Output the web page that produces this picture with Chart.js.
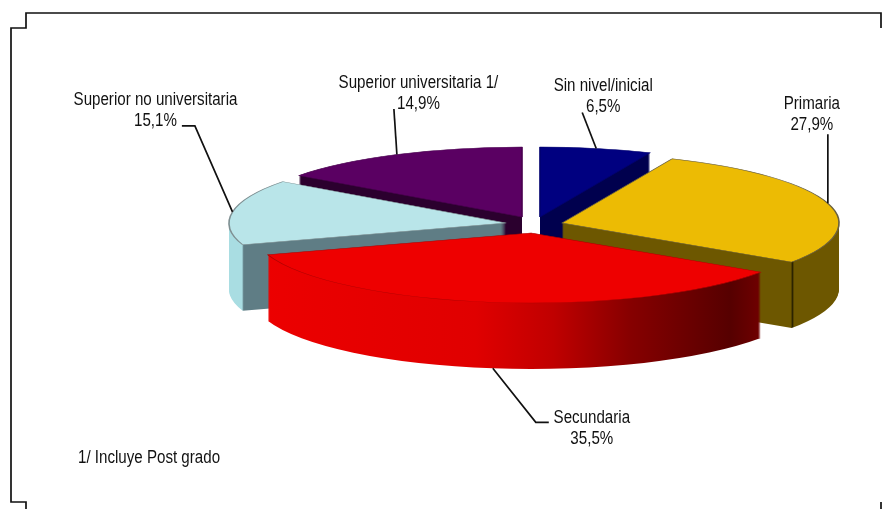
<!DOCTYPE html>
<html>
<head>
<meta charset="utf-8">
<style>
  html, body { margin: 0; padding: 0; background: #fff; }
  canvas { display: block; }
</style>
<script src="https://cdn.jsdelivr.net/npm/chart.js@4/dist/chart.umd.min.js"></script>
</head>
<body>
<canvas id="pie" width="882" height="509"></canvas>
<script>
// datos del grafico
const categories = ['Sin nivel/inicial', 'Primaria', 'Secundaria', 'Superior no universitaria', 'Superior universitaria 1/'];
const shares = [6.5, 27.9, 35.5, 15.1, 14.9];
const footnote = '1/ Incluye Post grado';

// colores de cada porcion
const topColors = ['#000080', '#ecbb04', '#ee0000', '#b9e5e9', '#5a0062'];
// pared lateral: [posicion -1..1 sobre el radio, color]
const wallStops = [
  [[-1, '#00004e'], [1, '#00004e']],
  [[0.826, '#6d5700'], [0.832, '#2a2200'], [0.838, '#6d5700']],
  [[-0.96, '#ec0000'], [-0.2, '#e00000'], [0.08, '#c00000'], [0.36, '#860000'], [0.72, '#560000'], [0.83, '#700000']],
  [[-0.953, '#a9dde2'], [-0.947, '#5f7d85']],
  [[-1, '#2b002e'], [1, '#2b002e']]
];
const edgeColors = ['#000070', '#6a6040', '#b00000', '#7f8f92', '#4a0050'];

// geometria de la vista 3D (pixeles de pantalla)
const view = { cx: 528, cy: 222, rx: 277, ry: 70, depth: 66 };
const explode = [[12, -5], [34, 1], [3, 11], [-22, 1], [-6, -5]];
const drawOrder = [4, 0, 3, 1, 2]; // de atras hacia adelante

// etiquetas: desplazamientos desde el punto medio del borde de cada porcion
const callouts = [
  { label: [7, -51.5], line: [[-14, -36]] },
  { label: [-16, -89], line: [[0, -69]] },
  { label: [99, 60.5], line: [[43, 54], [56, 54]] },
  { label: [-77, -101.5], line: [[-37.6, -86], [-50.6, -86]] },
  { label: [21.5, -60.5], line: [[-3, -45.5]] }
];

const labelFont = '17.5px "Liberation Sans", sans-serif';
const textSquash = 0.864; // el texto original es mas alto y angosto

function drawSlice(ctx, arc, i) {
  const r = arc.outerRadius;
  const sx = view.rx / r, sy = view.ry / r;
  const saved = arc.options;

  const place = (dy) => {
    ctx.translate(view.cx + explode[i][0], view.cy + explode[i][1] + dy);
    ctx.scale(sx, sy);
    ctx.translate(-arc.x, -arc.y);
  };

  // pared lateral, apilando el arco
  const grad = ctx.createLinearGradient(arc.x - r, 0, arc.x + r, 0);
  wallStops[i].forEach(s => grad.addColorStop((s[0] + 1) / 2, s[1]));
  arc.options = Object.assign({}, saved, { backgroundColor: grad, borderWidth: 0 });
  for (let d = view.depth; d > 0; d--) {
    ctx.save();
    place(d);
    arc.draw(ctx);
    ctx.restore();
  }

  // cara superior
  arc.options = Object.assign({}, saved, { backgroundColor: topColors[i], borderColor: edgeColors[i], borderWidth: 1.5 });
  ctx.save();
  place(0);
  arc.draw(ctx);
  ctx.restore();
  arc.options = saved;
}

function drawFrame(ctx) {
  ctx.save();
  ctx.strokeStyle = '#111';
  ctx.lineWidth = 1.7;
  ctx.beginPath();
  ctx.moveTo(881, 28); ctx.lineTo(881, 13); ctx.lineTo(26, 13); ctx.lineTo(26, 28);
  ctx.lineTo(11, 28); ctx.lineTo(11, 502); ctx.lineTo(26, 502); ctx.lineTo(26, 509);
  ctx.moveTo(881, 502); ctx.lineTo(881, 509);
  ctx.stroke();
  ctx.restore();
}

function squashedText(ctx, text, x, y) {
  ctx.save();
  ctx.translate(x, y);
  ctx.scale(textSquash, 1);
  ctx.fillText(text, 0, 0);
  ctx.restore();
}

function drawCallouts(ctx, arcs) {
  ctx.save();
  ctx.font = labelFont;
  ctx.fillStyle = '#111';
  ctx.strokeStyle = '#111';
  ctx.lineWidth = 1.7;
  ctx.textAlign = 'center';
  ctx.textBaseline = 'middle';
  arcs.forEach((arc, i) => {
    const mid = (arc.startAngle + arc.endAngle) / 2;
    const x = view.cx + explode[i][0] + Math.cos(mid) * view.rx;
    let y = view.cy + explode[i][1] + Math.sin(mid) * view.ry;
    if (Math.sin(mid) > 0.9) y += view.depth; // la linea sale de la base en la porcion frontal
    const c = callouts[i];
    ctx.beginPath();
    ctx.moveTo(x, y);
    c.line.forEach(p => ctx.lineTo(x + p[0], y + p[1]));
    ctx.stroke();
    const lx = x + c.label[0], ly = y + c.label[1];
    squashedText(ctx, categories[i], lx, ly - 10.5);
    squashedText(ctx, shares[i].toFixed(1).replace('.', ',') + '%', lx, ly + 10.5);
  });
  ctx.textAlign = 'left';
  squashedText(ctx, footnote, 78, 458);
  ctx.restore();
}

const pie3d = {
  id: 'pie3d',
  beforeDatasetDraw(chart) {
    const arcs = chart.getDatasetMeta(0).data;
    drawOrder.forEach(i => drawSlice(chart.ctx, arcs[i], i));
    return false; // ya dibujado
  },
  afterDraw(chart) {
    drawCallouts(chart.ctx, chart.getDatasetMeta(0).data);
    drawFrame(chart.ctx);
  }
};

new Chart(document.getElementById('pie'), {
  type: 'pie',
  data: {
    labels: categories,
    datasets: [{ data: shares, backgroundColor: topColors, borderWidth: 0 }]
  },
  options: {
    responsive: false,
    animation: false,
    plugins: { legend: { display: false }, tooltip: { enabled: false } }
  },
  plugins: [pie3d]
});
</script>
</body>
</html>
